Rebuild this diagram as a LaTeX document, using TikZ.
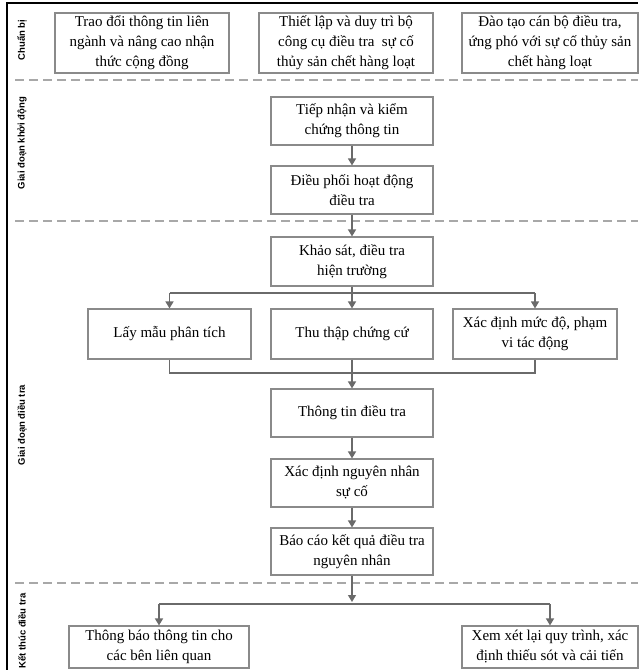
\documentclass[tikz,border=0pt]{standalone}
\usepackage{fontspec}
\setmainfont{Liberation Serif}
\newfontfamily\lblfont{Liberation Sans}
\usetikzlibrary{arrows.meta}
\definecolor{boxgray}{HTML}{8A8A8A}
\definecolor{lngray}{HTML}{6A6A6A}
\definecolor{dashgray}{HTML}{A8A8A8}
\tikzset{
  box/.style={draw=boxgray, line width=1.1pt, align=center, inner sep=0pt,
    font=\fontsize{15}{20}\selectfont, text=black},
  conn/.style={draw=lngray, line width=1.3pt},
  arr/.style={conn, -{Triangle[width=8pt,length=7pt]}},
  sep/.style={draw=dashgray, line width=1.1pt, dash pattern=on 9pt off 5pt},
  lbl/.style={rotate=90, font=\lblfont\bfseries\fontsize{9.5}{11}\selectfont, inner sep=0pt},
  frame/.style={draw=black, line width=1.4pt}
}
\begin{document}
\begin{tikzpicture}[x=1pt,y=-1pt]
\useasboundingbox (0,0) rectangle (638,670);
% frame
\draw[frame] (7,670) -- (7,3) -- (638,3);
% separators
\draw[sep] (15,80) -- (638,80);
\draw[sep] (15,221) -- (638,221);
\draw[sep] (15,583) -- (638,583);
% phase labels
\node[lbl] (l1) at (22,40) {Chuẩn bị};
\node[lbl] (l2) at (22,143) {Giai đoạn khởi động};
\node[lbl] (l3) at (22,425) {Giai đoạn điều tra};
\node[lbl] (l4) at (22,631) {Kết thúc điều tra};
% preparation boxes
\node[box, minimum width=174pt, minimum height=60pt] (a1) at (142,43) {Trao đổi thông tin liên\\ngành và nâng cao nhận\\thức cộng đồng};
\node[box, minimum width=174pt, minimum height=60pt] (a2) at (346,43) {Thiết lập và duy trì bộ\\công cụ điều tra \ sự cố\\thủy sản chết hàng loạt};
\node[box, minimum width=176pt, minimum height=60pt] (a3) at (550,43) {Đào tạo cán bộ điều tra,\\ứng phó với sự cố thủy sản\\chết hàng loạt};
% start phase
\node[box, minimum width=162pt, minimum height=48pt] (b1) at (352,121) {Tiếp nhận và kiểm\\chứng thông tin};
\node[box, minimum width=162pt, minimum height=48pt] (b2) at (352,190) {Điều phối hoạt động\\điều tra};
% investigation phase
\node[box, minimum width=162pt, minimum height=49pt] (c) at (352,261.5) {Khảo sát, điều tra\\hiện trường};
\node[box, minimum width=163pt, minimum height=50pt] (d1) at (169.5,334) {Lấy mẫu phân tích};
\node[box, minimum width=162pt, minimum height=50pt] (d2) at (352,334) {Thu thập chứng cứ};
\node[box, minimum width=164pt, minimum height=50pt] (d3) at (535,334) {Xác định mức độ, phạm\\vi tác động};
\node[box, minimum width=162pt, minimum height=48pt] (e) at (352,413) {Thông tin điều tra};
\node[box, minimum width=162pt, minimum height=48pt] (f) at (352,483) {Xác định nguyên nhân\\sự cố};
\node[box, minimum width=162pt, minimum height=47pt] (g) at (352,551.5) {Báo cáo kết quả điều tra\\nguyên nhân};
% end phase
\node[box, minimum width=180pt, minimum height=42pt] (h1) at (159,647) {Thông báo thông tin cho\\các bên liên quan};
\node[box, minimum width=176pt, minimum height=42pt] (h2) at (550,647) {Xem xét lại quy trình, xác\\định thiếu sót và cải tiến};
% junction coordinates
\coordinate (s1) at (352,293);
\coordinate (m1) at (352,373);
\coordinate (s2) at (352,604);
% connectors
\draw[arr] (b1) -- (b2);
\draw[arr] (b2) -- (c);
\draw[arr] (c) -- (d2);
\draw[conn] (d1.north |- s1) -- (d3.north |- s1);
\draw[arr] (d1.north |- s1) -- (d1.north);
\draw[arr] (d3.north |- s1) -- (d3.north);
\draw[conn] (d1.south) -- (d1.south |- m1) -- (d3.south |- m1) -- (d3.south);
\draw[arr] (d2) -- (e);
\draw[arr] (e) -- (f);
\draw[arr] (f) -- (g);
\draw[arr] (g.south) -- ([yshift=2pt]s2);
\draw[conn] (h1.north |- s2) -- (h2.north |- s2);
\draw[arr] (h1.north |- s2) -- (h1.north);
\draw[arr] (h2.north |- s2) -- (h2.north);
\end{tikzpicture}
\end{document}
